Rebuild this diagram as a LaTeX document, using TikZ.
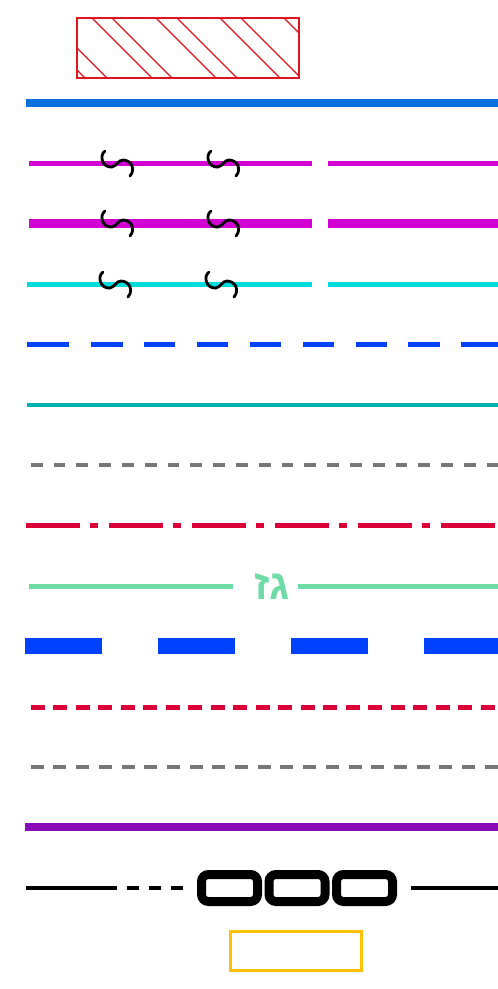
\documentclass[tikz,border=0pt]{standalone}
\usepackage{fontspec}
\usepackage{tikz}
\usetikzlibrary{calc}
\newfontfamily\hebfont[Script=Hebrew]{Liberation Sans}
\TeXXeTstate=1
\definecolor{lRed}{HTML}{E0141E}
\definecolor{lSky}{HTML}{0B70DE}
\definecolor{lMagenta}{HTML}{D200D2}
\definecolor{lCyan}{HTML}{00DCDC}
\definecolor{lBlue}{HTML}{0040FF}
\definecolor{lTeal}{HTML}{00B2B2}
\definecolor{lGrey}{HTML}{777777}
\definecolor{lCrimson}{HTML}{DC0038}
\definecolor{lMint}{HTML}{6EDCA6}
\definecolor{lPurple}{HTML}{8A0AB8}
\definecolor{lAmber}{HTML}{FFC107}

\begin{document}
\begin{tikzpicture}[x=1pt, y=-1pt,
  breakmark/.style={black, line width=2.8pt, line cap=round},
  wavebreak/.pic={\draw[breakmark] (-13,-12) .. controls (-19,-8) and (-16,5) .. (-6,4)
    .. controls (-1,3) and (0,-3) .. (5,-3) .. controls (13,-3) and (18,6) .. (12,13);},
  chainlink/.style={black, line width=9pt, rounded corners=7pt}]
  \useasboundingbox (0,0) rectangle (498,989);
  % hatched box
  \begin{scope}
    \clip (77,18) rectangle (299,78);
    \foreach \c in {7,29,74,94,138,159,202,223,266}
      \draw[lRed, line width=1.4pt] (\c+8,8) -- (\c+88,88);
  \end{scope}
  \draw[lRed, line width=2pt] (77,18) rectangle (299,78);
  % solid lines
  \draw[lSky, line width=8pt] (26,103) -- (498,103);
  \draw[lTeal, line width=4.5pt] (27,405) -- (498,405);
  \draw[lPurple, line width=8pt] (25,827) -- (498,827);
  % broken lines
  \draw[lMagenta, line width=5pt] (29,163) -- (312,163) (328,163) -- (498,163);
  \draw[lMagenta, line width=9pt] (29,223) -- (312,223) (328,223) -- (498,223);
  \draw[lCyan, line width=5pt] (27,284) -- (312,284) (328,284) -- (498,284);
  \foreach \y/\dx in {163/0, 223/0, 284/-2}
    \path (118+\dx,\y) pic {wavebreak} (224+\dx,\y) pic {wavebreak};
  % dashed lines
  \draw[lBlue, line width=5pt, dash pattern=on 42pt off 22pt on 31.5pt off 21.4pt on 31.5pt off 21.4pt
    on 31.5pt off 21.4pt on 31.5pt off 21.4pt on 31.5pt off 21.4pt on 31.5pt off 21.4pt
    on 31.5pt off 21.4pt on 60pt off 10pt] (27,344) -- (498,344);
  \draw[lGrey, line width=4pt, dash pattern=on 11.7pt off 11.1pt, dash phase=19pt] (27,465) -- (498,465);
  \draw[lCrimson, line width=5pt, dash pattern=on 54pt off 10pt on 8pt off 11pt] (26,525) -- (498,525);
  \draw[lBlue, line width=16pt, dash pattern=on 77pt off 56pt] (25,646) -- (498,646);
  \draw[lCrimson, line width=5pt, dash pattern=on 14pt off 8.5pt, dash phase=17pt] (25,707) -- (498,707);
  \draw[lGrey, line width=4pt, dash pattern=on 13pt off 9.7pt, dash phase=17pt] (25,767) -- (498,767);
  % labelled line
  \node[lMint, font=\hebfont\bfseries\fontsize{42}{42}\selectfont, inner sep=0pt] (gz) at (272,586) {\beginR גז\endR};
  \draw[lMint, line width=5pt] (29,586) -- (233,586) (298,586) -- (498,586);
  % chain
  \draw[black, line width=4.5pt] (26,888) -- (117,888) (411,888) -- (498,888);
  \draw[black, line width=4.5pt, dash pattern=on 12pt off 10pt] (127,888) -- (185,888);
  \foreach \cx in {229.5,297,364.5}
    \draw[chainlink] (\cx-28,874.5) rectangle (\cx+28,901.5);
  % empty box
  \draw[lAmber, line width=3pt] (230.5,931.5) rectangle (361.5,970.5);
\end{tikzpicture}
\end{document}
